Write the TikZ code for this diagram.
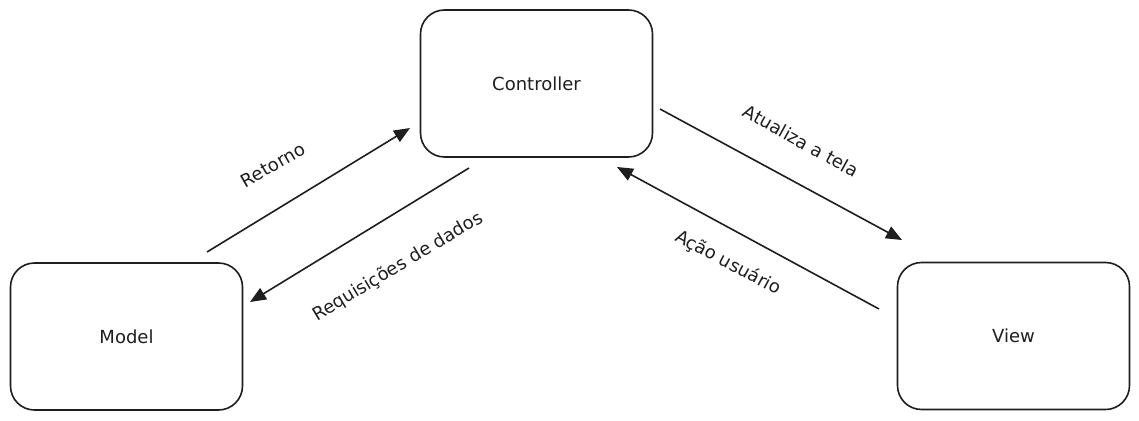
\documentclass[tikz,border=0pt]{standalone}
\usepackage{fontspec}
\setmainfont{DejaVu Sans}
\usetikzlibrary{arrows.meta}
\definecolor{ink}{HTML}{1E1E1E}
\tikzset{
  box/.style={draw=ink, line width=1.6pt, rounded corners=24pt,
    minimum width=232pt, minimum height=147pt, inner sep=0pt,
    text=ink, font=\fontsize{18}{20}\selectfont},
  flow/.style={draw=ink, line width=1.6pt,
    -{Triangle[length=16pt,width=13pt]}},
  lbl/.style={text=ink, inner sep=0pt, font=\fontsize{18}{20}\selectfont}
}
\begin{document}
\begin{tikzpicture}[x=1pt, y=-1pt]
  \useasboundingbox[fill=white] (0,0) rectangle (1139,420);

  % the three components
  \node[box] (controller) at (536.5,83.5) {Controller};
  \node[box] (model) at (126.5,336.5) {Model};
  \node[box] (view) at (1013.5,336) {View};

  % connector end points
  \coordinate (retA) at (207,252);
  \coordinate (retB) at (410,128);
  \coordinate (reqA) at (469,168);
  \coordinate (reqB) at (250,302);
  \coordinate (atuA) at (660,109);
  \coordinate (atuB) at (902,240);
  \coordinate (acaA) at (879,309);
  \coordinate (acaB) at (617,167);

  % messages between components
  \draw[flow] (retA) -- (retB);
  \draw[flow] (reqA) -- (reqB);
  \draw[flow] (atuA) -- (atuB);
  \draw[flow] (acaA) -- (acaB);

  % message labels
  \node[lbl, rotate=30] (retLbl) at (273,165) {Retorno};
  \node[lbl, rotate=31] (reqLbl) at (398,267) {Requisições de dados};
  \node[lbl, rotate=-29] (atuLbl) at (801,141) {Atualiza a tela};
  \node[lbl, rotate=-28] (acaLbl) at (728,263) {Ação usuário};
\end{tikzpicture}
\end{document}
